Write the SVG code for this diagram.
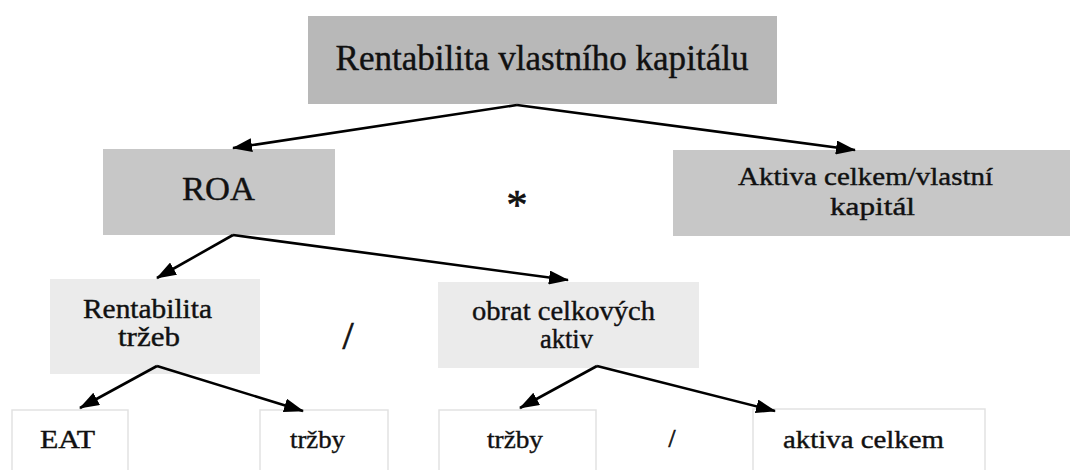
<svg xmlns="http://www.w3.org/2000/svg" width="1072" height="470" viewBox="0 0 1072 470">
  <style>
    text { font-family: 'Liberation Serif', 'Times New Roman', serif; fill: #111; text-anchor: middle; }
    .lbl { stroke: #111; stroke-width: 0.4; }
    .op { stroke: #111; stroke-width: 0.7; }
    .lvl1 { fill: #b8b8b8; }
    .lvl2 { fill: #c7c7c7; }
    .lvl3 { fill: #ebebeb; }
    .lvl4 { fill: #ffffff; stroke: #e2e2e2; stroke-width: 1.5; }
    .conn { fill: none; stroke: #000; stroke-width: 2.6; marker-end: url(#arrow); }
  </style>
  <defs>
    <marker id="arrow" viewBox="0 0 20 14" refX="19" refY="7" markerWidth="20" markerHeight="14" markerUnits="userSpaceOnUse" orient="auto">
      <path d="M0,0 L20,7 L0,14 z" fill="#000"/>
    </marker>
  </defs>

  <rect width="1072" height="470" fill="#fff"/>

  <g id="node-rentabilita-vk">
    <rect class="lvl1" x="308" y="16" width="469" height="88"/>
    <text class="lbl" x="542" y="70" font-size="35" textLength="413" lengthAdjust="spacingAndGlyphs">Rentabilita vlastního kapitálu</text>
  </g>

  <g id="node-roa">
    <rect class="lvl2" x="103" y="149" width="232" height="86"/>
    <text class="lbl" x="218.5" y="200" font-size="33" textLength="73" lengthAdjust="spacingAndGlyphs">ROA</text>
  </g>

  <g id="op-multiply">
    <text class="op" x="517" y="219" font-size="42">*</text>
  </g>

  <g id="node-aktiva-vk">
    <rect class="lvl2" x="673" y="150" width="397" height="86"/>
    <text class="lbl" x="865.5" y="185" font-size="25" textLength="255" lengthAdjust="spacingAndGlyphs">Aktiva celkem/vlastní</text>
    <text class="lbl" x="872.5" y="215" font-size="25" textLength="85" lengthAdjust="spacingAndGlyphs">kapitál</text>
  </g>

  <g id="node-rentabilita-trzeb">
    <rect class="lvl3" x="50" y="279" width="210" height="95"/>
    <text class="lbl" x="147.5" y="318" font-size="27" textLength="129" lengthAdjust="spacingAndGlyphs">Rentabilita</text>
    <text class="lbl" x="149" y="346" font-size="27" textLength="62" lengthAdjust="spacingAndGlyphs">tržeb</text>
  </g>

  <g id="op-divide-1">
    <text class="op" x="348" y="349" font-size="40">/</text>
  </g>

  <g id="node-obrat-aktiv">
    <rect class="lvl3" x="438" y="282" width="261" height="86"/>
    <text class="lbl" x="563.5" y="320" font-size="27" textLength="183" lengthAdjust="spacingAndGlyphs">obrat celkových</text>
    <text class="lbl" x="566.5" y="348" font-size="27" textLength="53" lengthAdjust="spacingAndGlyphs">aktiv</text>
  </g>

  <g id="node-eat">
    <rect class="lvl4" x="12" y="410" width="116" height="70"/>
    <text class="lbl" x="67.5" y="448" font-size="26" textLength="55" lengthAdjust="spacingAndGlyphs">EAT</text>
  </g>

  <g id="node-trzby-1">
    <rect class="lvl4" x="260" y="410" width="128" height="70"/>
    <text class="lbl" x="317.5" y="448" font-size="26" textLength="55" lengthAdjust="spacingAndGlyphs">tržby</text>
  </g>

  <g id="node-trzby-2">
    <rect class="lvl4" x="439" y="410" width="157" height="70"/>
    <text class="lbl" x="515" y="448" font-size="26" textLength="56" lengthAdjust="spacingAndGlyphs">tržby</text>
  </g>

  <g id="op-divide-2">
    <text class="op" x="672" y="447" font-size="25">/</text>
  </g>

  <g id="node-aktiva-celkem">
    <rect class="lvl4" x="753" y="409" width="232" height="70"/>
    <text class="lbl" x="863.5" y="448" font-size="26" textLength="161" lengthAdjust="spacingAndGlyphs">aktiva celkem</text>
  </g>

  <g id="connectors">
    <path class="conn" d="M517,105 L233,148"/>
    <path class="conn" d="M517,105 L855,150"/>
    <path class="conn" d="M233,235 L157,278"/>
    <path class="conn" d="M233,235 L568,280"/>
    <path class="conn" d="M157,366 L80,408"/>
    <path class="conn" d="M157,366 L303,411"/>
    <path class="conn" d="M597,366 L520,408"/>
    <path class="conn" d="M597,366 L775,411"/>
  </g>
</svg>
